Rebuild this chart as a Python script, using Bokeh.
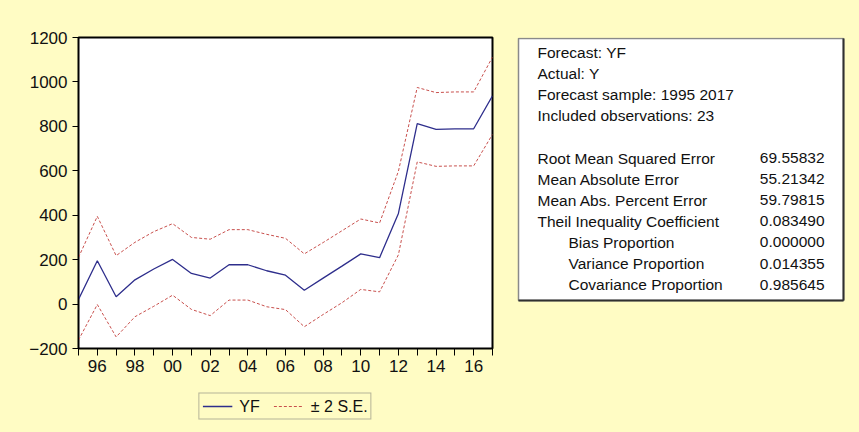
from bokeh.plotting import figure
from bokeh.models import ColumnDataSource, Range1d, FixedTicker, Legend, LegendItem
from bokeh.layouts import row, column
from bokeh.embed import file_html
from bokeh.resources import INLINE
from bokeh.core.properties import value

# ---------------- data ----------------
years = list(range(1995, 2018))
yf = [21, 195, 33, 109, 158, 201, 138, 117, 177, 177, 150, 130, 62,
      117, 171, 226, 209, 408, 812, 786, 789, 789, 938]
upper = [210, 395, 218, 278, 326, 362, 300, 292, 335, 335, 314, 296, 226,
         277, 330, 383, 365, 598, 975, 952, 955, 955, 1112]
lower = [-162, -2, -148, -57, -10, 40, -24, -52, 18, 18, -12, -25, -102,
         -47, 6, 66, 55, 222, 640, 620, 622, 622, 764]

x_major_ticks = [1996, 1998, 2000, 2002, 2004, 2006, 2008, 2010, 2012, 2014, 2016]
x_major_labels = ["96", "98", "00", "02", "04", "06", "08", "10", "12", "14", "16"]
x_minor_ticks = [1995, 1997, 1999, 2001, 2003, 2005, 2007, 2009, 2011, 2013, 2015, 2017]
y_ticks = [-200, 0, 200, 400, 600, 800, 1000, 1200]

header_lines = ["Forecast: YF", "Actual: Y", "Forecast sample: 1995 2017",
                "Included observations: 23"]
stat_labels = ["Root Mean Squared Error", "Mean Absolute Error",
               "Mean Abs. Percent Error", "Theil Inequality Coefficient",
               "Bias Proportion", "Variance Proportion", "Covariance Proportion"]
stat_values = ["69.55832", "55.21342", "59.79815", "0.083490",
               "0.000000", "0.014355", "0.985645"]
stat_indented = [False, False, False, False, True, True, True]

legend_labels = ["YF", "\u00b1 2 S.E."]

# ---------------- styles / layout ----------------
YELLOW = "#FFFCC4"
NAVY = "#2E2E8C"
RED = "#C8504D"
FONT = "Liberation Sans"
W, H = 859, 432
W1 = 505                       # width of the chart part
H1 = 392                       # height of the chart figure (legend strip below)
FR_L, FR_R, FR_T, FR_B = 78, 492, 37, 348   # plot frame in page pixels
BG = {"background-color": YELLOW}

src = ColumnDataSource(dict(x=years, yf=yf, up=upper, lo=lower))

# ---------------- main chart ----------------
p = figure(width=W1, height=H1, x_range=Range1d(1995, 2017),
           y_range=Range1d(-200, 1200), output_backend="svg",
           toolbar_location=None, min_border_left=FR_L, min_border_right=W1 - FR_R,
           min_border_top=FR_T, min_border_bottom=H1 - FR_B)
p.background_fill_color = "white"
p.border_fill_color = YELLOW
p.outline_line_color = "black"
p.outline_line_width = 2
p.grid.visible = False
p.styles = BG

p.xaxis.ticker = FixedTicker(ticks=x_major_ticks, minor_ticks=x_minor_ticks)
p.xaxis.major_label_overrides = dict(zip(x_major_ticks, x_major_labels))
p.xaxis.major_tick_out = 7
p.xaxis.major_tick_in = 0
p.xaxis.minor_tick_out = 7
p.xaxis.minor_tick_in = 0
p.xaxis.minor_tick_line_color = "black"
p.xaxis.major_label_standoff = 4

p.yaxis.ticker = FixedTicker(ticks=y_ticks, minor_ticks=[])
p.yaxis.major_tick_out = 6
p.yaxis.major_tick_in = 0
p.yaxis.major_label_standoff = 5

for ax in (p.xaxis, p.yaxis):
    ax.axis_line_color = "black"
    ax.major_tick_line_color = "black"
    ax.major_label_text_font = FONT
    ax.major_label_text_font_size = "17px"
    ax.major_label_text_color = "#111111"

p.line("x", "up", source=src, line_color=RED, line_dash="3 2", line_width=1)
p.line("x", "lo", source=src, line_color=RED, line_dash="3 2", line_width=1)
p.line("x", "yf", source=src, line_color=NAVY, line_width=1.3)

# ---------------- legend strip ----------------
lf = figure(width=W1, height=H - H1, x_range=Range1d(0, 1), y_range=Range1d(0, 1),
            output_backend="svg", toolbar_location=None,
            min_border_left=FR_L, min_border_right=W1 - FR_R,
            min_border_top=0, min_border_bottom=12)
lf.axis.visible = False
lf.grid.visible = False
lf.outline_line_color = None
lf.background_fill_color = YELLOW
lf.border_fill_color = YELLOW
lf.styles = BG
# legend keys: same series, drawn outside this strip's (empty) view
k_yf = lf.line("x", "yf", source=src, line_color=NAVY, line_width=1.3)
k_se = lf.line("x", "up", source=src, line_color=RED, line_dash="3 2", line_width=1)

legend = Legend(items=[LegendItem(label=legend_labels[0], renderers=[k_yf]),
                       LegendItem(label=legend_labels[1], renderers=[k_se])],
                location="center", orientation="horizontal")
legend.border_line_color = "#6E6E6E"
legend.border_line_width = 1.2
legend.background_fill_color = YELLOW
legend.background_fill_alpha = 1
legend.label_text_font = FONT
legend.label_text_font_size = "16px"
legend.label_text_color = "#111111"
legend.glyph_width = 30
legend.glyph_height = 19
legend.label_height = 19
legend.label_standoff = 7
legend.spacing = 14
legend.padding = 3
legend.margin = 0
lf.add_layout(legend)

# ---------------- statistics panel (page-pixel coordinates) ----------------
q = figure(width=W - W1, height=H, x_range=Range1d(W1, W), y_range=Range1d(FR_B, FR_T),
           output_backend="svg", toolbar_location=None, min_border_left=0,
           min_border_right=0, min_border_top=FR_T, min_border_bottom=H - FR_B)
q.axis.visible = False
q.grid.visible = False
q.outline_line_color = None
q.background_fill_color = YELLOW
q.border_fill_color = YELLOW
q.styles = BG

BOX_L, BOX_R, BOX_T, BOX_B = 518, 843, 38, 300
q.quad(left=[BOX_L], right=[BOX_R], top=[BOX_T], bottom=[BOX_B],
       fill_color="white", line_color="#8A8A8A", line_width=1.5)
q.segment(x0=[BOX_R, BOX_L], y0=[BOX_T, BOX_B], x1=[BOX_R, BOX_R], y1=[BOX_B, BOX_B],
          line_color="#303030", line_width=2)

Y0, DY = 52, 21.1
TX, TIND, TR = 537, 568, 824
FS = "15.5px"
hy = [Y0 + DY * i for i in range(len(header_lines))]
q.text(x=[TX] * len(header_lines), y=hy, text=header_lines,
       text_font=value(FONT), text_font_size=FS, text_baseline="middle",
       text_color="#111111")
sy = [Y0 + DY * (len(header_lines) + 1 + i) for i in range(len(stat_labels))]
sx = [TIND if ind else TX for ind in stat_indented]
q.text(x=sx, y=sy, text=stat_labels, text_font=value(FONT), text_font_size=FS,
       text_baseline="middle", text_color="#111111")
q.text(x=[TR] * len(stat_values), y=sy, text=stat_values, text_font=value(FONT),
       text_font_size=FS, text_baseline="middle", text_align="right",
       text_color="#111111")

left_col = column(p, lf, spacing=0)
left_col.styles = BG
layout = row(left_col, q, spacing=0)
layout.styles = BG
html = file_html(layout, INLINE, "Forecast")
html = html.replace("<head>", "<head><style>html, body { background: %s; }</style>" % YELLOW, 1)
open("out.html", "w").write(html)
